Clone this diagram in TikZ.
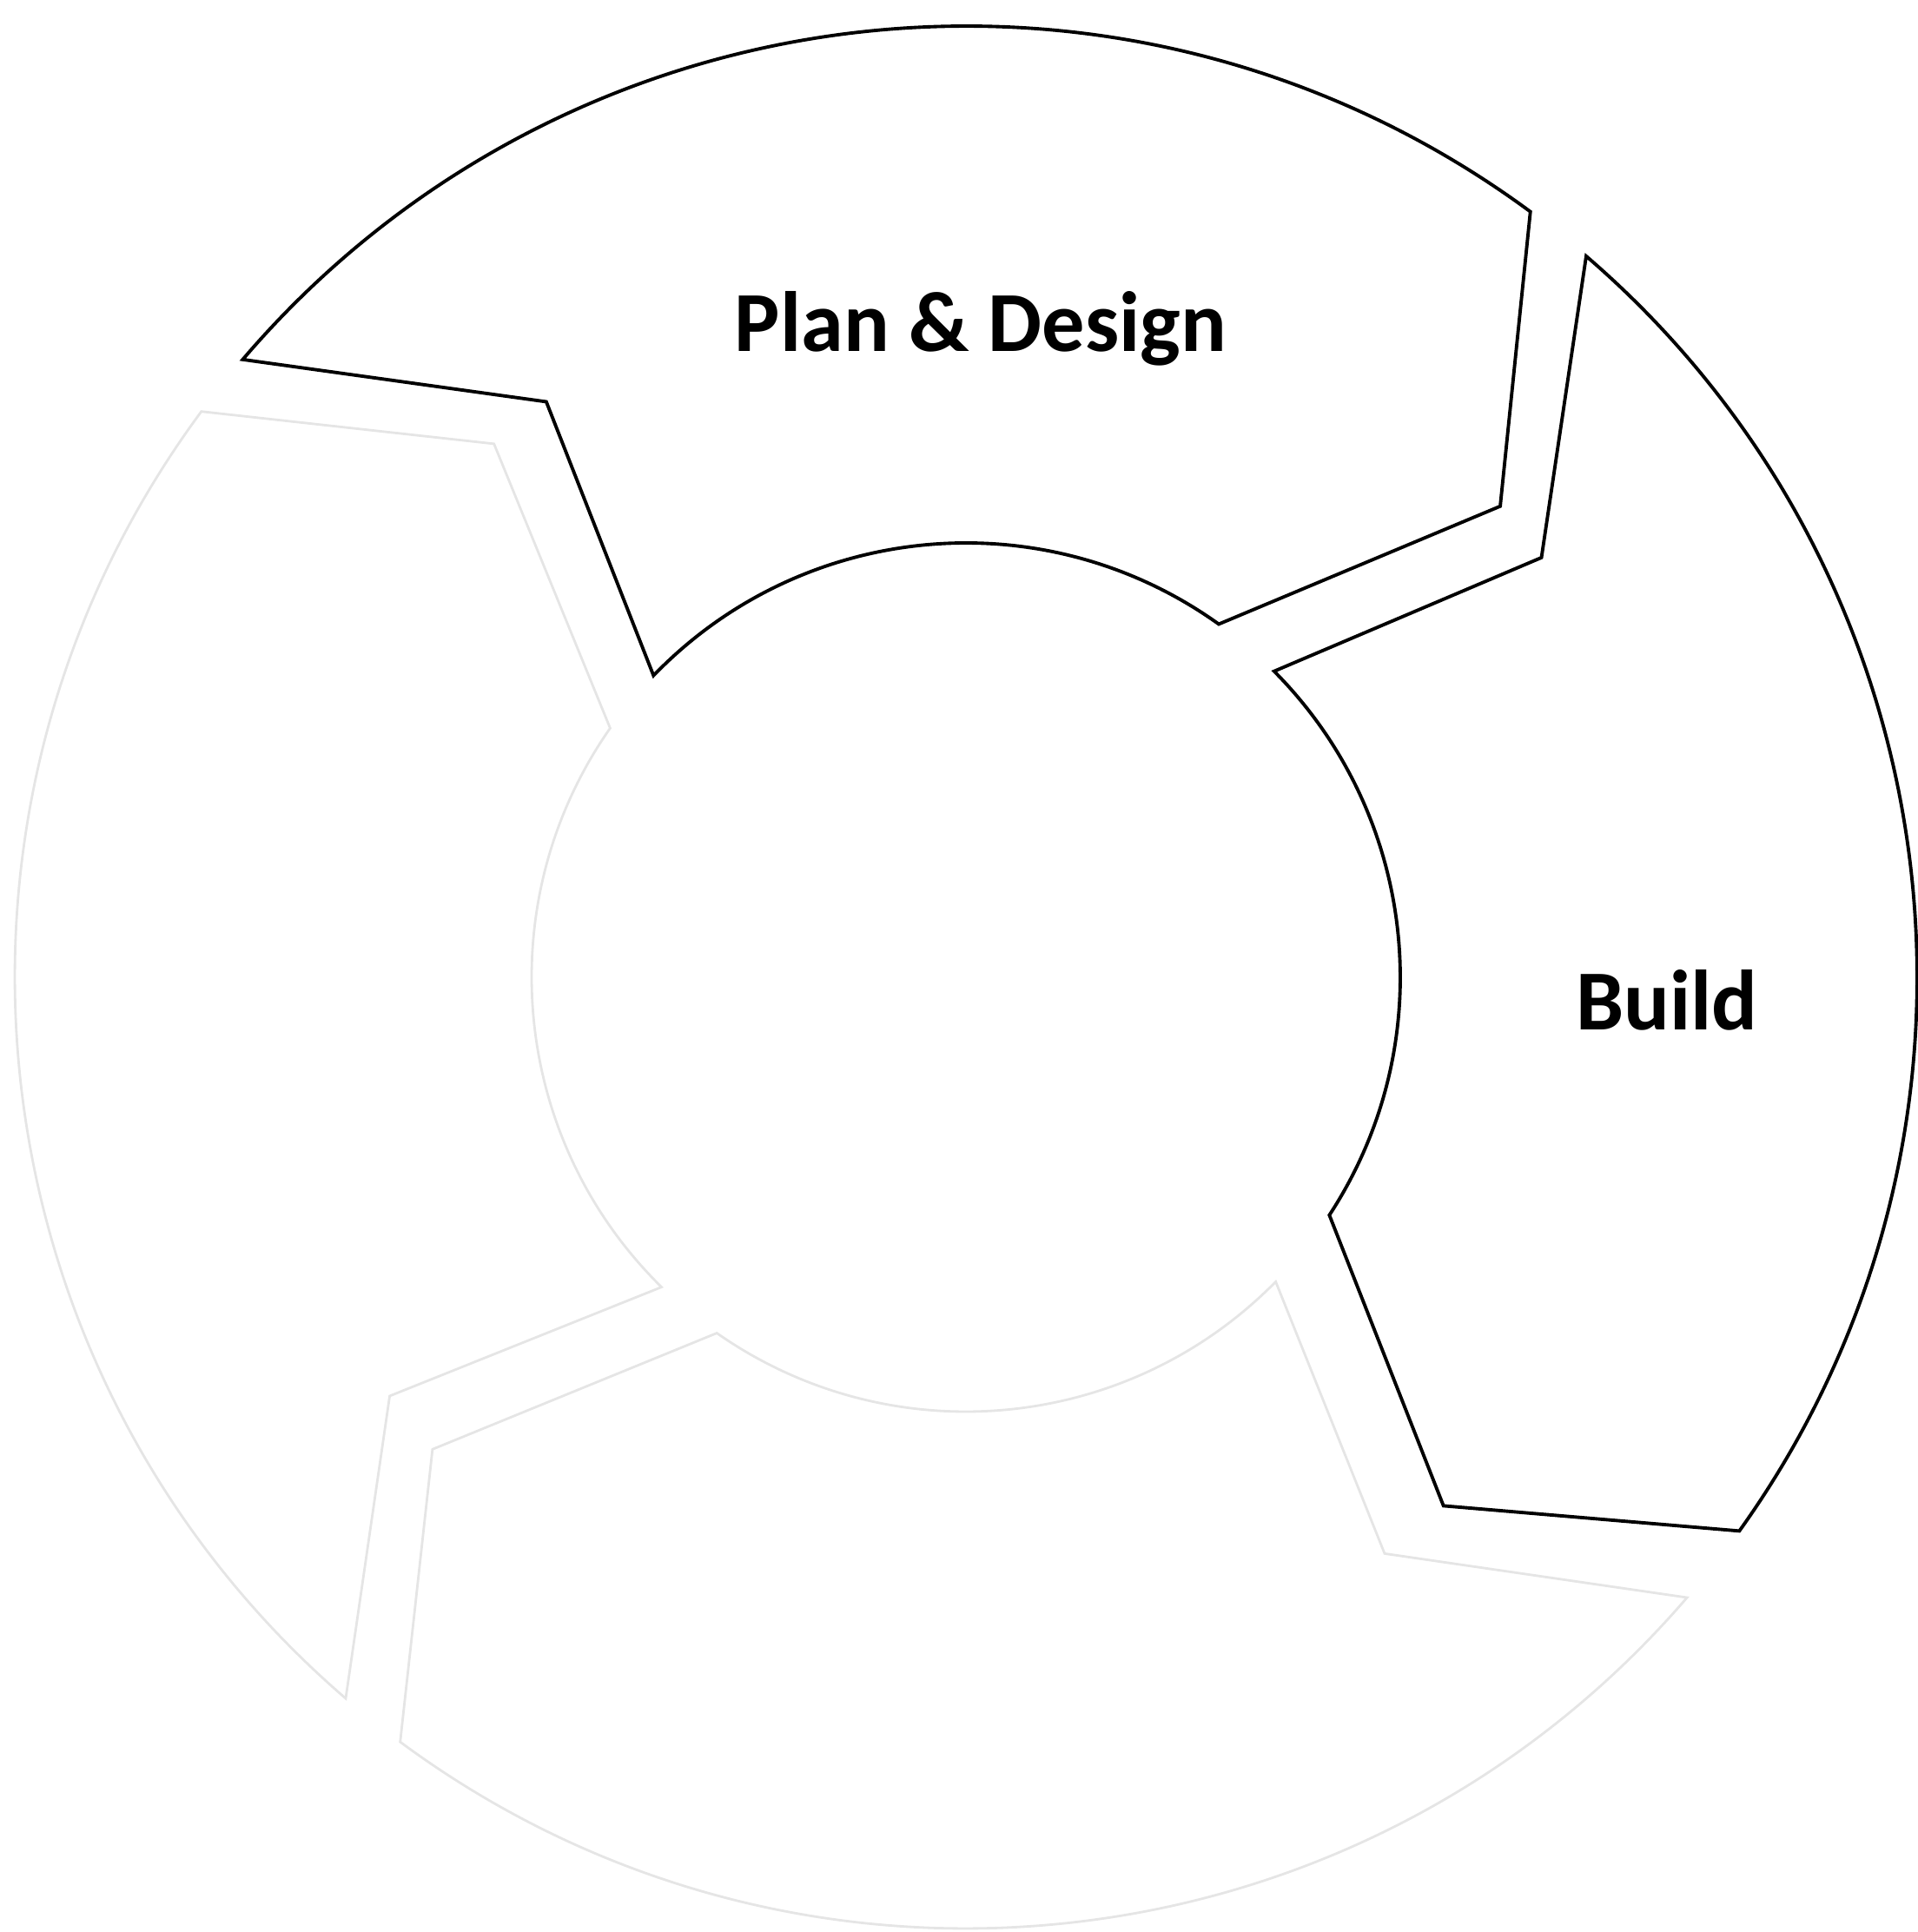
\documentclass[tikz,border=0pt]{standalone}
\usepackage{fontspec}
\setmainfont{Carlito}
\usetikzlibrary{positioning}
\newcommand{\rOut}{10.95}
\newcommand{\rIn}{5.0}
\newcommand{\rMid}{8.2}

\begin{document}
\begin{tikzpicture}[every node/.style={font=\fontsize{28}{34}\selectfont\bfseries},
    segment/.style={draw=black, line width=1.1pt, line join=miter},
    faintseg/.style={draw=black!10, line width=0.8pt}]
    \useasboundingbox (0,0) rectangle (22.08,22.24);

    \begin{scope}[shift={(11.12,10.99)}]
        % faint segments (bottom, left)
        \draw[faintseg] (-40.7:\rOut) arc[start angle=-40.7, end angle=-126.5, radius=\rOut] -- (-138.5:\rMid) -- (-125:\rIn) arc[start angle=-125, end angle=-44.5, radius=\rIn] -- (-54:\rMid) -- cycle;
        \draw[faintseg] (-130.7:\rOut) arc[start angle=-130.7, end angle=-216.5, radius=\rOut] -- (-228.5:\rMid) -- (-215:\rIn) arc[start angle=-215, end angle=-134.5, radius=\rIn] -- (-144:\rMid) -- cycle;

        % plan & design
        \draw[segment] (139.5:\rOut) arc[start angle=139.5, end angle=53.6, radius=\rOut] -- (41.4:\rMid) -- (54.4:\rIn) arc[start angle=54.4, end angle=136, radius=\rIn] -- (126.1:\rMid) -- cycle;
        % build
        \draw[segment] (49.3:\rOut) arc[start angle=49.3, end angle=-35.6, radius=\rOut] -- (-47.9:\rMid) -- (-33.2:\rIn) arc[start angle=-33.2, end angle=44.8, radius=\rIn] -- (36.1:\rMid) -- cycle;
    \end{scope}

    \node (plan) at (11.29,18.46) {Plan \& Design};
    \node (build) at (19.19,10.73) {Build};
\end{tikzpicture}
\end{document}
